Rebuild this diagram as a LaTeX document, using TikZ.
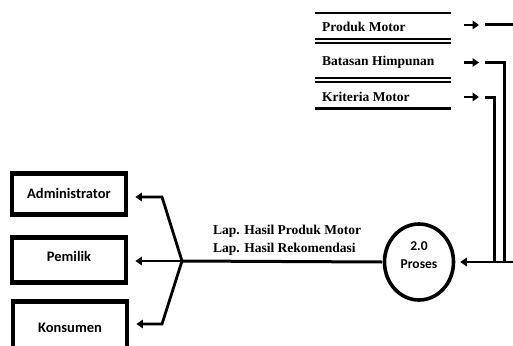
\documentclass[tikz,border=0pt]{standalone}
\usepackage{fontspec}
\setmainfont{Liberation Serif}
\newfontfamily\calfont{Carlito}
\usetikzlibrary{arrows.meta,shapes.geometric}
\begin{document}
\begin{tikzpicture}[x=1pt,y=-1pt,
  ent/.style={draw,line width=4.8pt,minimum width=114pt,inner sep=0pt,
    font=\calfont\bfseries\fontsize{14.5}{17}\selectfont},
  proc/.style={draw,ellipse,line width=3.6pt,minimum width=69pt,minimum height=76pt,
    inner sep=0pt,align=center,font=\calfont\bfseries\fontsize{13.5}{20}\selectfont},
  dstext/.style={anchor=west,inner sep=0pt,font=\bfseries\fontsize{13.5}{16}\selectfont},
  flowlbl/.style={anchor=west,inner sep=0pt,align=left,font=\bfseries\fontsize{13.5}{17.5}\selectfont},
  dsline/.style={line width=2.3pt},
  conn/.style={line width=3pt},
  arr/.style={line width=2.8pt,-{Triangle[length=6.5pt,width=8.5pt]}},
]
\clip (0,0) rectangle (513,345);
\fill[white] (0,0) rectangle (513,345);

% data stores
\draw[dsline] (315,13) -- (451,13);
\draw[dsline] (315,39.3) -- (451,39.3);
\draw[dsline] (315,43) -- (451,43);
\draw[dsline] (315,78) -- (451,78);
\draw[dsline] (315,81.7) -- (451,81.7);
\draw[dsline] (315,108.5) -- (451,108.5);
\node[dstext] (pm) at (322,27) {Produk Motor};
\node[dstext] (bh) at (322,62) {Batasan Himpunan};
\node[dstext] (km) at (322,96.5) {Kriteria Motor};

% small arrows beside data stores
\coordinate (pmA) at (464,25);   \coordinate (pmB) at (479,25);
\coordinate (bhA) at (464,62.5); \coordinate (bhB) at (479,62.5);
\coordinate (kmA) at (464,97);   \coordinate (kmB) at (479,97);
\draw[arr] (pmA) -- (pmB);
\draw[arr] (bhA) -- (bhB);
\draw[arr] (kmA) -- (kmB);

% lines to the right
\coordinate (pmL) at (485,25);   \coordinate (pmR) at (513,25);
\coordinate (bhL) at (485,62.5); \coordinate (bhC) at (504.5,62.5); \coordinate (bhD) at (504.5,262);
\coordinate (kmL) at (485,97);   \coordinate (kmC) at (494,97);     \coordinate (kmD) at (494,262);
\draw[conn] (pmL) -- (pmR);
\draw[conn] (bhL) -- (bhC) -- (bhD);
\draw[conn] (kmL) -- (kmC) -- (kmD);

% process
\node[proc] (P) at (419,262) {2.0\\[-2pt]Proses\\[-6pt]\mbox{}};
\coordinate (inR) at (513,262);
\draw[arr] (inR) -- ([xshift=5pt]P.east);

% external entities
\node[ent,minimum height=41pt] (adm) at (69,194) {\raisebox{1pt}{Administrator}};
\node[ent,minimum height=45pt] (pem) at (69,260) {\raisebox{7pt}{Pemilik}};
\node[ent,minimum height=60pt] (kon) at (70,331.5) {\raisebox{8pt}{Konsumen}};

% output flow
\coordinate (J) at (182,261);
\coordinate (Ja) at (162,197);
\coordinate (Jk) at (162,324);
\draw[conn] ([xshift=-0.5pt]P.west) -- (J);
\draw[arr] (J) -- (Ja) -- ([xshift=7pt]adm.east |- Ja);
\draw[arr] (J) -- ([xshift=7pt]pem.east |- J);
\draw[arr] (J) -- (Jk) -- ([xshift=7pt]kon.east |- Jk);
\node[flowlbl] (lbl) at (213,240.5) {Lap. Hasil Produk Motor\\Lap. Hasil Rekomendasi};
\end{tikzpicture}
\end{document}
